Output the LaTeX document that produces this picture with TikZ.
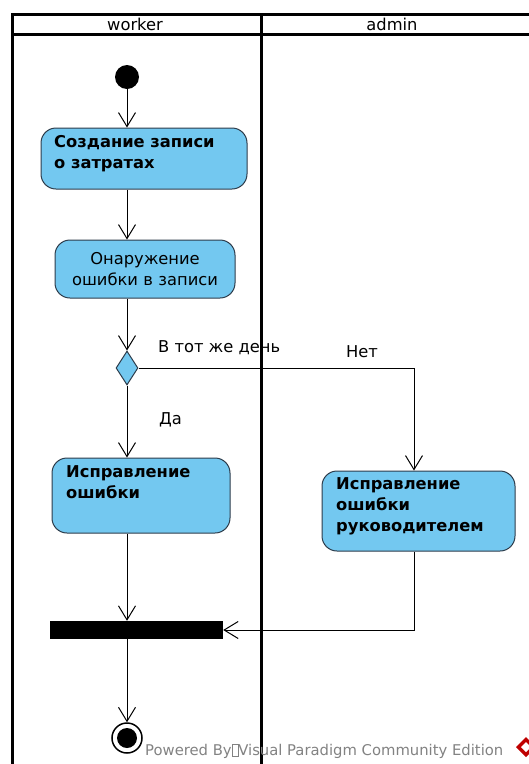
\documentclass[tikz,border=0pt]{standalone}
\usepackage{fontspec}
\setmainfont{DejaVu Sans}
\usetikzlibrary{arrows.meta,shapes.geometric}
\definecolor{actfill}{RGB}{115,200,240}
\definecolor{actdraw}{RGB}{45,60,75}
\definecolor{wm}{RGB}{130,130,130}
\tikzset{
  lane/.style={line width=3pt,black},
  action/.style={draw=actdraw,fill=actfill,rounded corners=15pt,line width=1pt,rectangle,inner sep=0pt},
  acttext/.style={font=\fontsize{16.3}{21}\selectfont\bfseries,align=left,inner sep=0pt,anchor=north west},
  flow/.style={line width=1pt,-{Straight Barb[length=14pt,width=17pt,line width=1pt]}},
  lbl/.style={font=\fontsize{16.3}{20}\selectfont,inner sep=0pt},
}
\begin{document}
\begin{tikzpicture}[x=1pt,y=-1pt]
\useasboundingbox (0,0) rectangle (529,764);
\begin{scope}
\clip (0,0) rectangle (529,764);
% swimlanes
\draw[lane] (12,800) -- (12,14) -- (560,14);
\draw[lane] (12,34) -- (560,34);
\draw[lane] (261,14) -- (261,800);
\node[lbl] (hw) at (135,24) {worker};
\node[lbl] (ha) at (392,24) {admin};
% nodes
\node[circle,fill=black,minimum size=24pt,inner sep=0pt] (init) at (127,77) {};
\node[action,minimum width=206pt,minimum height=61pt] (a1) at (144,158.5) {};
\node[acttext] (t1) at (54,135) {Создание записи\\о затратах};
\node[action,minimum width=180pt,minimum height=58pt] (a2) at (145,269) {};
\node[lbl,align=center,text width=170pt,font=\fontsize{16.3}{21}\selectfont] (t2) at (145,269) {Онаружение\\ошибки в записи};
\node[diamond,draw=actdraw,fill=actfill,line width=1pt,minimum width=22pt,minimum height=34pt,inner sep=0pt,aspect=0.65] (d) at (127,368) {};
\node[action,minimum width=178pt,minimum height=75pt] (a3) at (141,495.5) {};
\node[acttext] (t3) at (66,465) {Исправление\\ошибки};
\node[action,minimum width=193pt,minimum height=80pt] (a4) at (418.5,511) {};
\node[acttext] (t4) at (336,477) {Исправление\\ошибки\\руководителем};
\node[rectangle,fill=black,minimum width=173pt,minimum height=18pt,inner sep=0pt] (bar) at (136.5,630) {};
\node[circle,draw=black,line width=1.5pt,minimum size=30pt,inner sep=0pt] (fin) at (127,738) {};
\node[circle,fill=black,minimum size=20pt,inner sep=0pt] (finin) at (127,738) {};
% labels
\node[lbl,anchor=west] (l1) at (158,348) {В тот же день};
\node[lbl,anchor=west] (l2) at (346,352) {Нет};
\node[lbl,anchor=west] (l3) at (159,420) {Да};
% flows
\draw[flow] (init.south) -- (init.south |- a1.north);
\draw[flow] (a1.south -| init) -- (a2.north -| init);
\draw[flow] (a2.south -| d.north) -- (d.north);
\draw[flow] (d.south) -- (d.south |- a3.north);
\coordinate (c1) at (414,368);
\draw[flow] (d.east) -- (c1) -- (c1 |- a4.north);
\draw[flow] (d.south |- a3.south) -- (d.south |- bar.north);
\coordinate (c2) at (414,630);
\draw[flow] (c2 |- a4.south) -- (c2) -- (bar.east);
\draw[flow] (d.south |- bar.south) -- (fin.north);
% watermark
\node[font=\fontsize{14.8}{17}\selectfont,text=wm,anchor=west,inner sep=0pt] (w) at (145,751) {Powered By\raisebox{-1pt}{\tikz\draw[line width=0.6pt,wm] (0,0) rectangle (6pt,12pt);}Visual Paradigm Community Edition};
\fill[red!75!black] (526,737) -- (536,747) -- (526,757) -- (516,747) -- cycle;
\fill[white] (526,742) -- (531,747) -- (526,752) -- (521,747) -- cycle;
\end{scope}
\end{tikzpicture}
\end{document}
